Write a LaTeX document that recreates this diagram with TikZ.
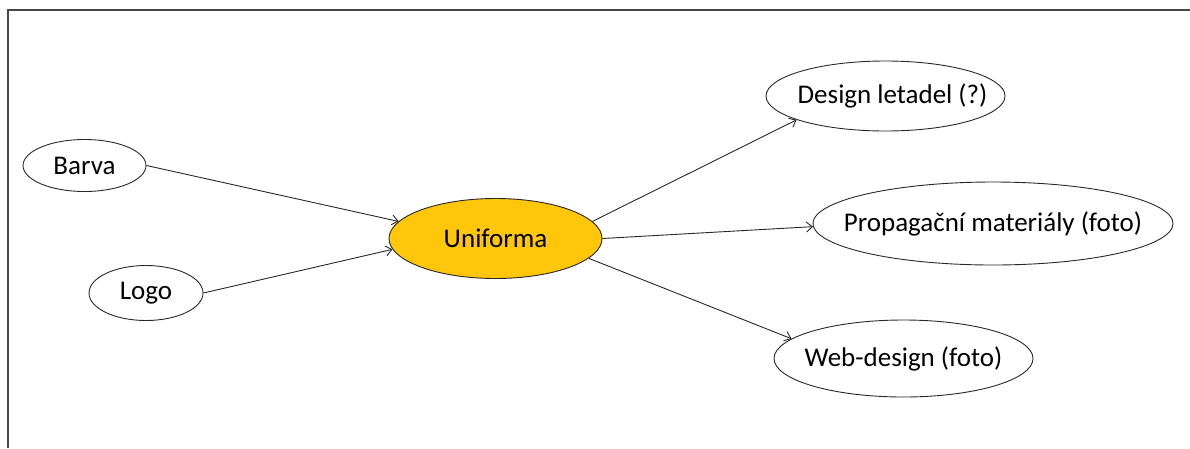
\documentclass[tikz,border=0pt]{standalone}
\usepackage{fontspec}
\setmainfont{Carlito}
\usetikzlibrary{shapes.geometric,arrows.meta}
\definecolor{framegray}{RGB}{70,70,70}
\definecolor{linegray}{RGB}{40,40,40}
\definecolor{hubfill}{RGB}{255,198,10}
% label of zero width, so that the ellipse keeps its given size
\newcommand{\lbl}[1]{\makebox[0pt]{#1}}
\tikzset{
  bubble/.style={ellipse, draw=linegray, line width=0.9pt, inner sep=0pt,
    font=\fontsize{27}{30}\selectfont, text=black},
  link/.style={draw=linegray, line width=0.9pt,
    -{Straight Barb[length=6pt,width=10pt,line width=0.9pt]}},
}
\begin{document}
\begin{tikzpicture}[x=1pt,y=-1pt]
\useasboundingbox (0,0) rectangle (1190,448);
% outer frame (only top and left edges fall inside the page)
\draw[framegray, line width=2pt] (8,448) -- (8,9.5) -- (1190,9.5);

% nodes
\node[bubble, minimum width=123pt, minimum height=52pt] (barva) at (84.5,165.5) {\lbl{Barva}};
\node[bubble, minimum width=114pt, minimum height=55pt] (logo) at (146,293) {\lbl{Logo}};
\node[bubble, fill=hubfill, minimum width=213pt, minimum height=80pt] (unif) at (495.5,238.5) {\lbl{Uniforma}};
\node[bubble, minimum width=239pt, minimum height=70pt] (design) at (885.5,96) {\lbl{\hspace*{14pt}Design letadel (?)}};
\node[bubble, minimum width=360pt, minimum height=83pt] (propag) at (993,223.5) {\lbl{Propagační materiály (foto)}};
\node[bubble, minimum width=259pt, minimum height=77pt] (web) at (903.5,358.5) {\lbl{Web-design (foto)}};

% connectors
\draw[link] (barva.east) -- (unif.170.7);
\draw[link] (logo.east) -- (unif.186.9);
\draw[link] (unif.10.6) -- (design.195.2);
\draw[link] (unif.east) -- (propag.181);
\draw[link] (unif.348.9) -- (web.170.9);
\end{tikzpicture}
\end{document}
